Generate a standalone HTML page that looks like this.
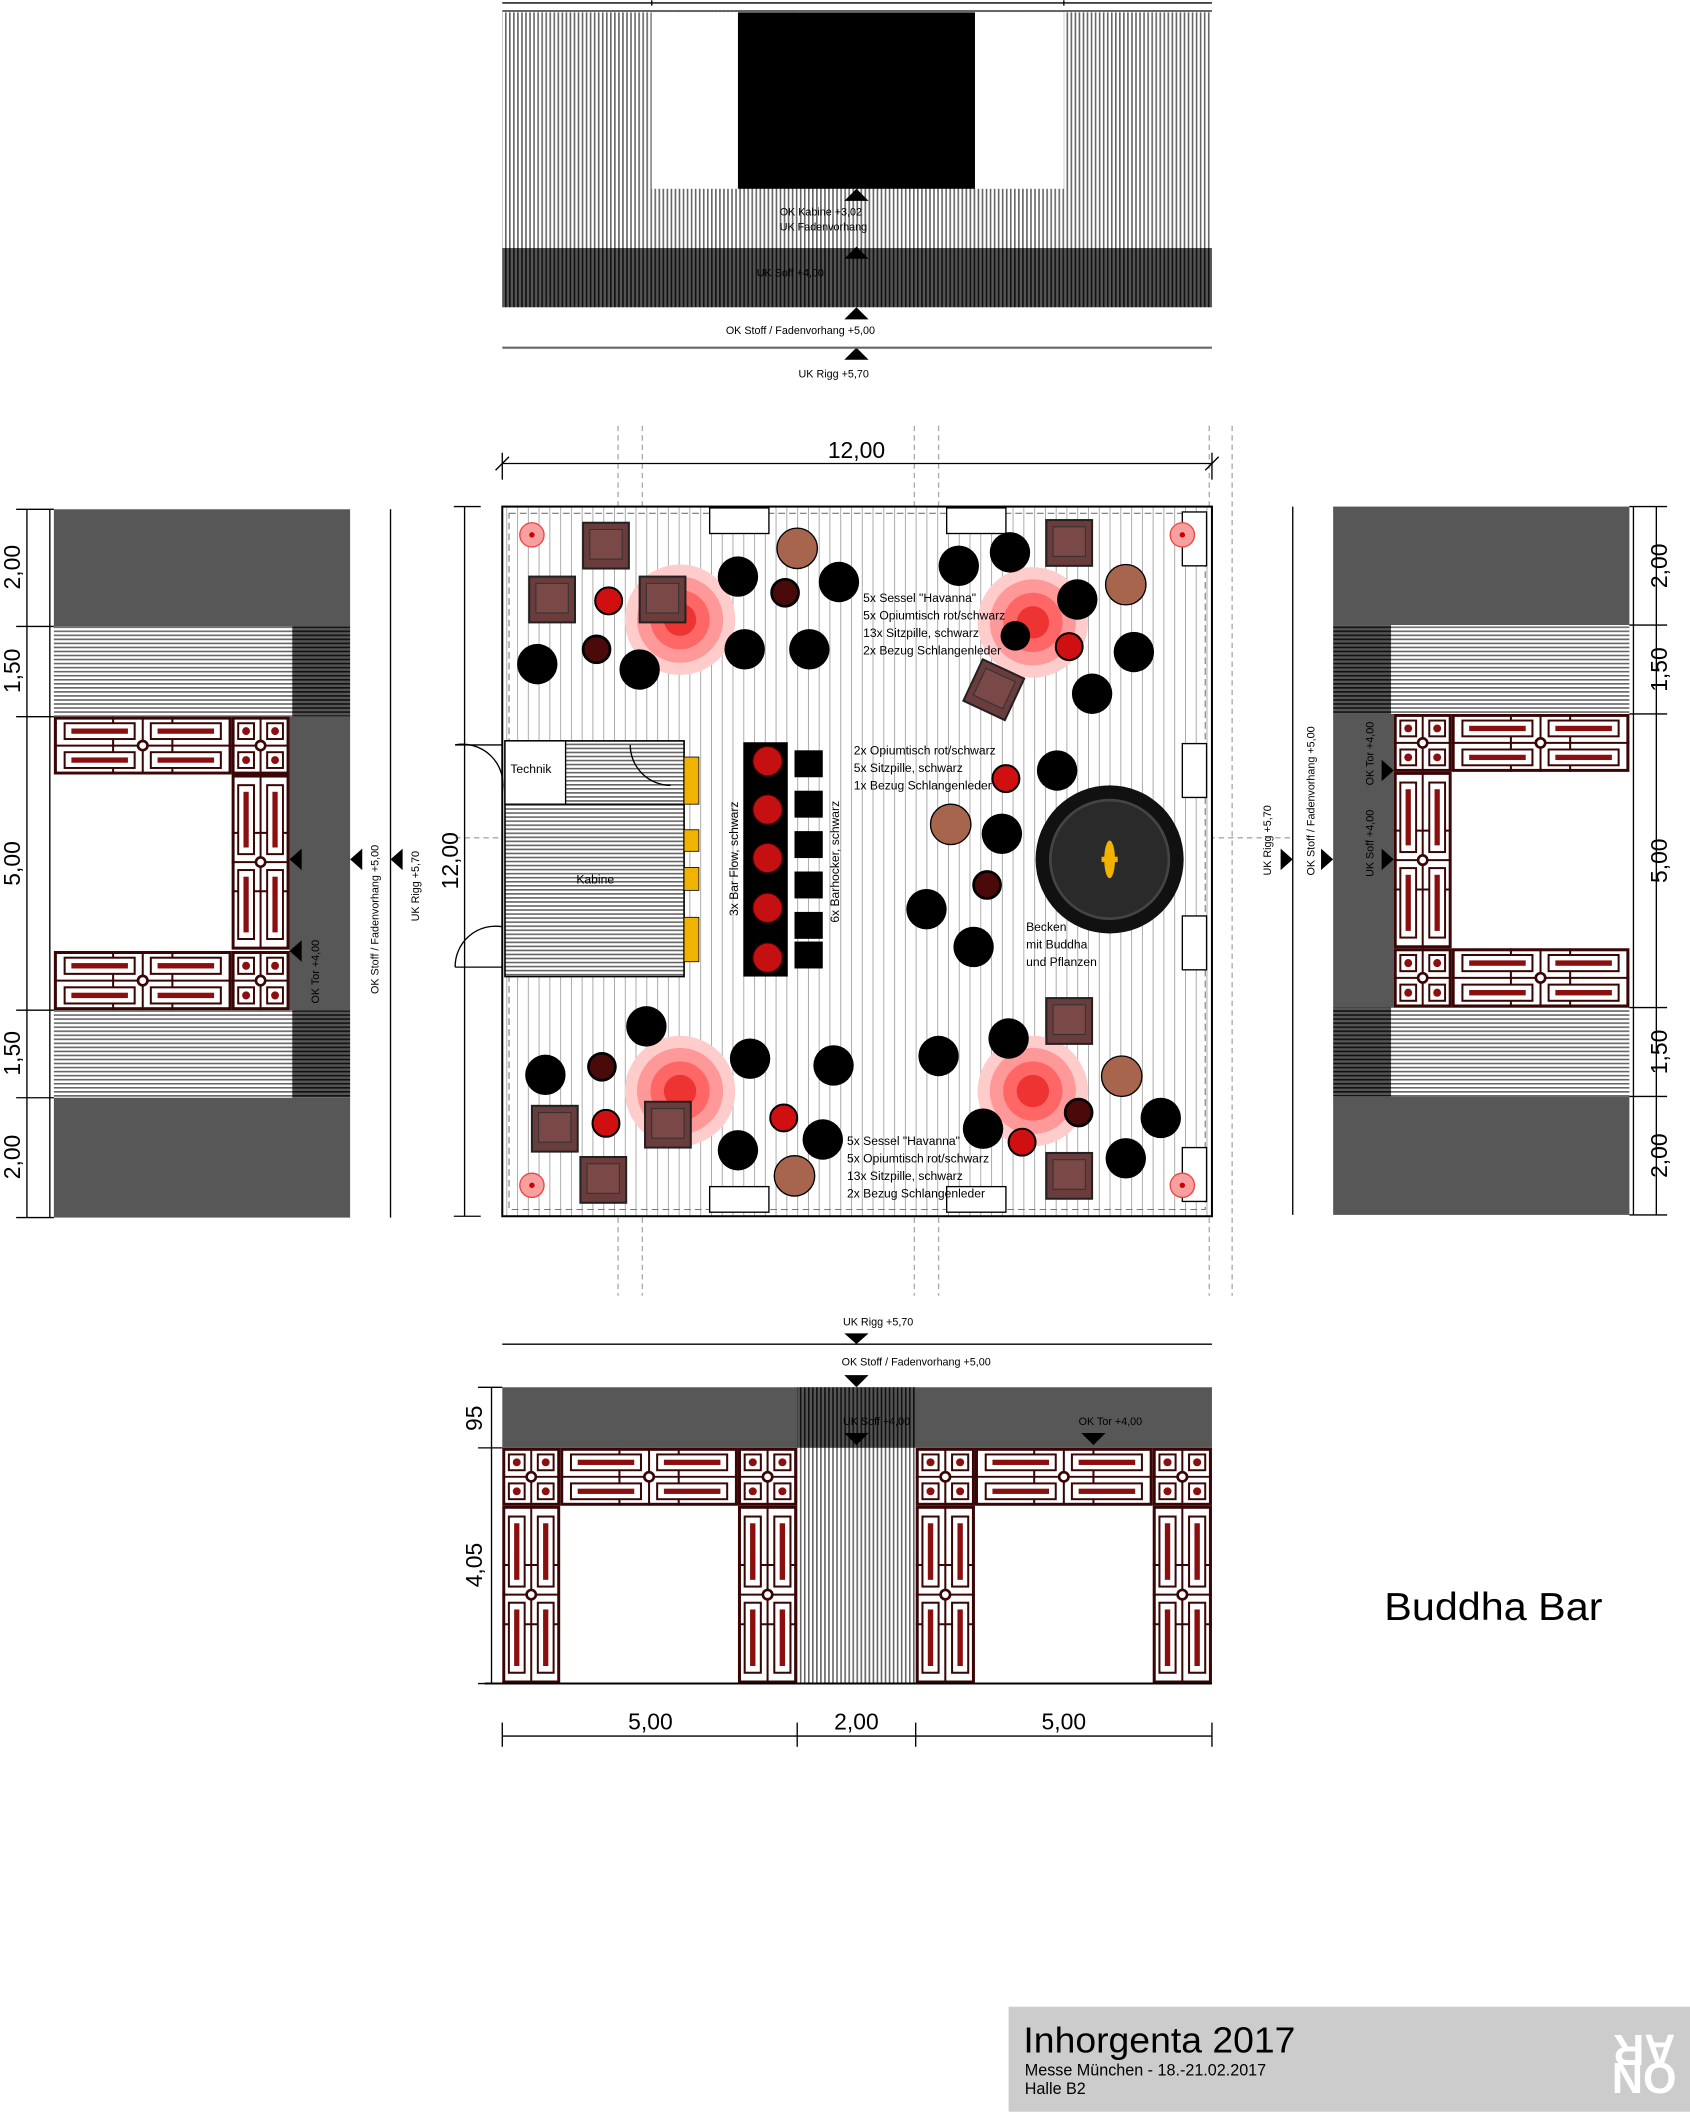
<!DOCTYPE html>
<html><head><meta charset="utf-8"><style>
html,body{margin:0;padding:0;background:#fff}
svg{display:block}
text{font-family:"Liberation Sans",sans-serif;fill:#000}
</style></head><body>
<svg width="1690" height="2112" viewBox="0 0 1255 1568" xmlns="http://www.w3.org/2000/svg">
<defs>
<pattern id="vh" width="3" height="10" patternUnits="userSpaceOnUse"><rect width="3" height="10" fill="#fff"/><rect width="1.2" height="10" fill="#666"/></pattern>
<pattern id="vd" width="3" height="10" patternUnits="userSpaceOnUse"><rect width="3" height="10" fill="#555"/><rect width="1.2" height="10" fill="#111"/></pattern>
<pattern id="hh" width="10" height="3" patternUnits="userSpaceOnUse"><rect width="10" height="3" fill="#fff"/><rect width="10" height="1.2" fill="#666"/></pattern>
<pattern id="hd" width="10" height="3" patternUnits="userSpaceOnUse"><rect width="10" height="3" fill="#555"/><rect width="10" height="1.2" fill="#111"/></pattern>
<pattern id="pl" width="8" height="10" patternUnits="userSpaceOnUse"><rect width="8" height="10" fill="#fff"/><rect width="0.6" height="10" fill="#999"/></pattern>
<symbol id="LH" viewBox="0 0 132 44" preserveAspectRatio="none">
<rect x="1" y="1" width="130" height="42" fill="#fff" stroke="#3a0505" stroke-width="2.5"/>
<g fill="none" stroke="#3a0505" stroke-width="1.5">
<line x1="0" y1="22" x2="132" y2="22"/><line x1="44" y1="0" x2="44" y2="44"/><line x1="88" y1="0" x2="88" y2="44"/><line x1="66" y1="0" x2="66" y2="44"/>
<rect x="8" y="5" width="52" height="12" fill="#fff"/><rect x="72" y="5" width="52" height="12" fill="#fff"/>
<rect x="8" y="27" width="52" height="12" fill="#fff"/><rect x="72" y="27" width="52" height="12" fill="#fff"/>
</g>
<g fill="#8b0f0f"><rect x="13" y="9" width="42" height="4"/><rect x="77" y="9" width="42" height="4"/><rect x="13" y="31" width="42" height="4"/><rect x="77" y="31" width="42" height="4"/></g>
<circle cx="66" cy="22" r="3.5" fill="#fff" stroke="#3a0505" stroke-width="2"/>
</symbol>
<symbol id="LV" viewBox="0 0 44 132" preserveAspectRatio="none">
<rect x="1" y="1" width="42" height="130" fill="#fff" stroke="#3a0505" stroke-width="2.5"/>
<g fill="none" stroke="#3a0505" stroke-width="1.5">
<line y1="0" x1="22" y2="132" x2="22"/><line y1="44" x1="0" y2="44" x2="44"/><line y1="88" x1="0" y2="88" x2="44"/><line y1="66" x1="0" y2="66" x2="44"/>
<rect y="8" x="5" height="52" width="12" fill="#fff"/><rect y="72" x="5" height="52" width="12" fill="#fff"/>
<rect y="8" x="27" height="52" width="12" fill="#fff"/><rect y="72" x="27" height="52" width="12" fill="#fff"/>
</g>
<g fill="#8b0f0f"><rect y="13" x="9" height="42" width="4"/><rect y="77" x="9" height="42" width="4"/><rect y="13" x="31" height="42" width="4"/><rect y="77" x="31" height="42" width="4"/></g>
<circle cy="66" cx="22" r="3.5" fill="#fff" stroke="#3a0505" stroke-width="2"/>
</symbol>
<symbol id="LS" viewBox="0 0 44 44" preserveAspectRatio="none">
<rect x="1" y="1" width="42" height="42" fill="#fff" stroke="#3a0505" stroke-width="2.5"/>
<g fill="none" stroke="#3a0505" stroke-width="1.5">
<line x1="0" y1="22" x2="44" y2="22"/><line x1="22" y1="0" x2="22" y2="44"/>
<rect x="5" y="5" width="12" height="12" fill="#fff"/><rect x="27" y="5" width="12" height="12" fill="#fff"/>
<rect x="5" y="27" width="12" height="12" fill="#fff"/><rect x="27" y="27" width="12" height="12" fill="#fff"/>
</g>
<g fill="#8b0f0f"><circle cx="11" cy="11" r="3"/><circle cx="33" cy="11" r="3"/><circle cx="11" cy="33" r="3"/><circle cx="33" cy="33" r="3"/></g>
<circle cx="22" cy="22" r="3.5" fill="#fff" stroke="#3a0505" stroke-width="2"/>
</symbol>
<g id="glowc"><circle r="41" fill="#fcc"/><circle r="32" fill="#f99"/><circle r="22" fill="#f66"/><circle r="12" fill="#e33"/></g>
<g id="arm"><rect x="-17" y="-17" width="34" height="34" fill="#6b3c3c" stroke="#222" stroke-width="1.5"/><rect x="-12" y="-12" width="24" height="22" fill="#7b4848" stroke="#333" stroke-width="0.8"/></g>
</defs>

<!-- TOP ELEVATION -->
<line x1="373" y1="2" x2="900" y2="2" stroke="#000" stroke-width="1"/>
<line x1="484" y1="0" x2="484" y2="4" stroke="#000"/><line x1="790" y1="0" x2="790" y2="4" stroke="#000"/>
<line x1="373" y1="8" x2="900" y2="8" stroke="#666" stroke-width="1.5"/>
<rect x="373" y="9" width="527" height="175" fill="url(#vh)"/>
<rect x="484" y="9" width="64" height="131" fill="#fff"/>
<rect x="724" y="9" width="66" height="131" fill="#fff"/>
<rect x="548" y="9" width="176" height="131" fill="#000"/>
<rect x="373" y="184" width="527" height="44" fill="url(#vd)"/>
<polygon points="636,140 627,149 645,149" fill="#000"/>
<polygon points="636,183 627,192 645,192" fill="#000"/>
<polygon points="636,228 627,237 645,237" fill="#000"/>
<polygon points="636,258 627,267 645,267" fill="#000"/>
<line x1="373" y1="258" x2="900" y2="258" stroke="#666" stroke-width="1.5"/>
<text x="579" y="160" font-size="8">OK Kabine +3,02</text>
<text x="579" y="171" font-size="8">UK Fadenvorhang</text>
<text x="562" y="205" font-size="8">UK Soff +4,00</text>
<text x="539" y="248" font-size="8">OK Stoff / Fadenvorhang +5,00</text>
<text x="593" y="280" font-size="8">UK Rigg +5,70</text>

<!-- PLAN -->
<g stroke="#aaa" stroke-width="1" stroke-dasharray="4,3">
<line x1="459" y1="316" x2="459" y2="962"/><line x1="477" y1="316" x2="477" y2="962"/>
<line x1="679" y1="316" x2="679" y2="962"/><line x1="697" y1="316" x2="697" y2="962"/>
<line x1="898" y1="316" x2="898" y2="962"/><line x1="915" y1="316" x2="915" y2="962"/>
<line x1="338" y1="622" x2="960" y2="622"/>
</g>
<line x1="373" y1="344" x2="900" y2="344" stroke="#000"/>
<line x1="373" y1="336" x2="373" y2="356" stroke="#000"/><line x1="900" y1="336" x2="900" y2="356" stroke="#000"/>
<line x1="368" y1="349" x2="378" y2="339" stroke="#000"/><line x1="895" y1="349" x2="905" y2="339" stroke="#000"/>
<text x="636" y="340" font-size="17" text-anchor="middle">12,00</text>
<line x1="345" y1="376" x2="345" y2="903" stroke="#000"/>
<line x1="337" y1="376" x2="357" y2="376" stroke="#000"/><line x1="337" y1="903" x2="357" y2="903" stroke="#000"/>
<text x="0" y="0" font-size="17" text-anchor="middle" transform="translate(340,639) rotate(-90)">12,00</text>

<rect x="373" y="376" width="527" height="527" fill="url(#pl)" stroke="#000" stroke-width="1.5"/>
<rect x="378" y="381" width="517" height="517" fill="none" stroke="#777" stroke-width="0.8" stroke-dasharray="5,3"/>
<g fill="#fff" stroke="#000" stroke-width="1">
<rect x="527" y="377" width="44" height="19"/><rect x="703" y="377" width="44" height="19"/>
<rect x="527" y="881" width="44" height="19"/><rect x="703" y="881" width="44" height="19"/>
<rect x="878" y="380" width="18" height="40"/><rect x="878" y="552" width="18" height="40"/><rect x="878" y="680" width="18" height="40"/><rect x="878" y="852" width="18" height="40"/>
</g>
<!-- kabine -->
<rect x="375" y="550" width="133" height="175" fill="url(#hh)" stroke="#000" stroke-width="1.2"/>
<rect x="375" y="550" width="45" height="47" fill="#fff" stroke="#000"/>
<line x1="420" y1="597" x2="508" y2="597" stroke="#000"/>
<path d="M338,553 A30,30 0 0 1 373,588" fill="none" stroke="#000"/><line x1="338" y1="553" x2="373" y2="553" stroke="#000"/>
<path d="M338,718 A30,30 0 0 1 373,688" fill="none" stroke="#000"/><line x1="338" y1="718" x2="373" y2="718" stroke="#000"/>
<path d="M468,553 A30,30 0 0 0 498,583" fill="none" stroke="#000"/>
<text x="379" y="574" font-size="9">Technik</text>
<text x="428" y="656" font-size="9">Kabine</text>
<g fill="#f2b300" stroke="#000" stroke-width="0.6">
<rect x="508" y="562" width="11" height="35"/><rect x="508" y="616" width="11" height="16"/><rect x="508" y="644" width="11" height="17"/><rect x="508" y="681" width="11" height="33"/>
</g>
<!-- bar -->
<rect x="552" y="551" width="33" height="174" fill="#000"/>
<g fill="#c41010" stroke="#300" stroke-width="1"><circle cx="570" cy="565" r="11"/><circle cx="570" cy="601" r="11"/><circle cx="570" cy="637" r="11"/><circle cx="570" cy="674" r="11"/><circle cx="570" cy="711" r="11"/></g>
<g fill="#000"><rect x="590" y="557" width="21" height="20"/><rect x="590" y="587" width="21" height="20"/><rect x="590" y="617" width="21" height="20"/><rect x="590" y="647" width="21" height="20"/><rect x="590" y="677" width="21" height="20"/><rect x="590" y="699" width="21" height="20"/></g>
<text font-size="9" transform="translate(548,680) rotate(-90)">3x Bar Flow, schwarz</text>
<text font-size="9" transform="translate(623,685) rotate(-90)">6x Barhocker, schwarz</text>

<use href="#glowc" x="505" y="460"/><use href="#glowc" x="767" y="462"/>
<use href="#glowc" x="505" y="810"/><use href="#glowc" x="767" y="810"/>
<use href="#arm" x="450" y="405"/><use href="#arm" x="410" y="445"/><use href="#arm" x="492" y="445"/>
<use href="#arm" x="794" y="403"/><use href="#arm" transform="translate(738,512) rotate(25)"/>
<use href="#arm" x="794" y="758"/><use href="#arm" x="794" y="873"/>
<use href="#arm" x="412" y="838"/><use href="#arm" x="496" y="835"/><use href="#arm" x="448" y="876"/>
<g fill="#000">
<circle cx="548" cy="428" r="15"/><circle cx="623" cy="432" r="15"/><circle cx="399" cy="493" r="15"/><circle cx="475" cy="497" r="15"/><circle cx="553" cy="482" r="15"/><circle cx="601" cy="482" r="15"/>
<circle cx="712" cy="420" r="15"/><circle cx="750" cy="410" r="15"/><circle cx="800" cy="445" r="15"/><circle cx="842" cy="484" r="15"/><circle cx="811" cy="515" r="15"/><circle cx="754" cy="472" r="11"/>
<circle cx="785" cy="572" r="15"/><circle cx="744" cy="619" r="15"/><circle cx="688" cy="675" r="15"/><circle cx="723" cy="703" r="15"/>
<circle cx="480" cy="762" r="15"/><circle cx="405" cy="798" r="15"/><circle cx="557" cy="786" r="15"/><circle cx="619" cy="791" r="15"/><circle cx="548" cy="854" r="15"/><circle cx="611" cy="846" r="15"/>
<circle cx="697" cy="784" r="15"/><circle cx="749" cy="771" r="15"/><circle cx="862" cy="830" r="15"/><circle cx="836" cy="860" r="15"/><circle cx="730" cy="838" r="15"/>
</g>
<g fill="#4a0a0a" stroke="#000" stroke-width="2">
<circle cx="583" cy="440" r="10"/><circle cx="443" cy="482" r="10"/><circle cx="733" cy="657" r="10"/><circle cx="447" cy="792" r="10"/><circle cx="801" cy="826" r="10"/>
</g>
<g fill="#d01010" stroke="#000" stroke-width="1.5">
<circle cx="452" cy="446" r="10"/><circle cx="794" cy="480" r="10"/><circle cx="747" cy="578" r="10"/><circle cx="450" cy="834" r="10"/><circle cx="582" cy="830" r="10"/><circle cx="759" cy="848" r="10"/>
</g>
<g fill="#a8654e" stroke="#000" stroke-width="1">
<circle cx="592" cy="407" r="15"/><circle cx="836" cy="434" r="15"/><circle cx="706" cy="612" r="15"/><circle cx="590" cy="873" r="15"/><circle cx="833" cy="799" r="15"/>
</g>
<g fill="#f7a0a0" stroke="#e44" stroke-width="1"><circle cx="395" cy="397" r="9"/><circle cx="878" cy="397" r="9"/><circle cx="395" cy="880" r="9"/><circle cx="878" cy="880" r="9"/></g>
<g fill="#c00"><circle cx="395" cy="397" r="2"/><circle cx="878" cy="397" r="2"/><circle cx="395" cy="880" r="2"/><circle cx="878" cy="880" r="2"/></g>
<circle cx="824" cy="638" r="55" fill="#111"/>
<circle cx="824" cy="638" r="44" fill="#2a2a2a" stroke="#444" stroke-width="2"/>
<ellipse cx="824" cy="638" rx="4" ry="14" fill="#f2b300"/><rect x="818" y="636" width="12" height="4" fill="#f2b300"/>
<text x="762" y="691" font-size="9">Becken</text>
<text x="762" y="704" font-size="9">mit Buddha</text>
<text x="762" y="717" font-size="9">und Pflanzen</text>
<g font-size="9">
<text x="641" y="447">5x Sessel "Havanna"</text><text x="641" y="460">5x Opiumtisch rot/schwarz</text><text x="641" y="473">13x Sitzpille, schwarz</text><text x="641" y="486">2x Bezug Schlangenleder</text>
<text x="634" y="560">2x Opiumtisch rot/schwarz</text><text x="634" y="573">5x Sitzpille, schwarz</text><text x="634" y="586">1x Bezug Schlangenleder</text>
<text x="629" y="850">5x Sessel "Havanna"</text><text x="629" y="863">5x Opiumtisch rot/schwarz</text><text x="629" y="876">13x Sitzpille, schwarz</text><text x="629" y="889">2x Bezug Schlangenleder</text>
</g>

<!-- LEFT ELEVATION -->
<rect x="40" y="378" width="220" height="87" fill="#575757"/>
<rect x="40" y="465" width="177" height="67" fill="url(#hh)"/>
<rect x="217" y="465" width="43" height="67" fill="url(#hd)"/>
<rect x="215" y="532" width="45" height="218" fill="#575757"/>
<rect x="40" y="750" width="177" height="65" fill="url(#hh)"/>
<rect x="217" y="750" width="43" height="65" fill="url(#hd)"/>
<rect x="40" y="815" width="220" height="89" fill="#575757"/>
<use href="#LH" x="40" y="532" width="132" height="43"/><use href="#LS" x="172" y="532" width="43" height="43"/>
<use href="#LV" x="172" y="575" width="43" height="130"/>
<use href="#LH" x="40" y="706" width="132" height="44"/><use href="#LS" x="172" y="706" width="43" height="44"/>
<line x1="37" y1="378" x2="37" y2="904" stroke="#000"/>
<line x1="290" y1="378" x2="290" y2="904" stroke="#000"/>
<polygon points="215,638 224,630 224,646" fill="#000"/><polygon points="215,706 224,698 224,714" fill="#000"/>
<polygon points="260,638 269,630 269,646" fill="#000"/><polygon points="290,638 299,630 299,646" fill="#000"/>
<text font-size="8" transform="translate(237,745) rotate(-90)">OK Tor +4,00</text>
<text font-size="8" transform="translate(281,738) rotate(-90)">OK Stoff / Fadenvorhang +5,00</text>
<text font-size="8" transform="translate(311,684) rotate(-90)">UK Rigg +5,70</text>
<line x1="20" y1="378" x2="20" y2="904" stroke="#000"/>
<g stroke="#000"><line x1="12" y1="378" x2="40" y2="378"/><line x1="12" y1="465" x2="40" y2="465"/><line x1="12" y1="532" x2="40" y2="532"/><line x1="12" y1="750" x2="40" y2="750"/><line x1="12" y1="815" x2="40" y2="815"/><line x1="12" y1="904" x2="40" y2="904"/></g>
<g font-size="17" text-anchor="middle">
<text transform="translate(15,421) rotate(-90)">2,00</text><text transform="translate(15,498) rotate(-90)">1,50</text>
<text transform="translate(15,641) rotate(-90)">5,00</text><text transform="translate(15,782) rotate(-90)">1,50</text><text transform="translate(15,859) rotate(-90)">2,00</text>
</g>

<!-- RIGHT ELEVATION -->
<rect x="990" y="376" width="220" height="88" fill="#575757"/>
<rect x="1033" y="464" width="177" height="66" fill="url(#hh)"/>
<rect x="990" y="464" width="43" height="66" fill="url(#hd)"/>
<rect x="990" y="530" width="45" height="218" fill="#575757"/>
<rect x="1033" y="748" width="177" height="66" fill="url(#hh)"/>
<rect x="990" y="748" width="43" height="66" fill="url(#hd)"/>
<rect x="990" y="814" width="220" height="88" fill="#575757"/>
<use href="#LS" x="1035" y="530" width="43" height="43"/><use href="#LH" x="1078" y="530" width="132" height="43"/>
<use href="#LV" x="1035" y="573" width="43" height="131"/>
<use href="#LS" x="1035" y="704" width="43" height="44"/><use href="#LH" x="1078" y="704" width="132" height="44"/>
<line x1="1213" y1="376" x2="1213" y2="902" stroke="#000"/>
<line x1="960" y1="376" x2="960" y2="902" stroke="#000"/>
<polygon points="1035,572 1026,564 1026,580" fill="#000"/><polygon points="1035,638 1026,630 1026,646" fill="#000"/>
<polygon points="990,638 981,630 981,646" fill="#000"/><polygon points="960,638 951,630 951,646" fill="#000"/>
<text font-size="8" transform="translate(1020,583) rotate(-90)">OK Tor +4,00</text>
<text font-size="8" transform="translate(1020,651) rotate(-90)">UK Soff +4,00</text>
<text font-size="8" transform="translate(976,650) rotate(-90)">OK Stoff / Fadenvorhang +5,00</text>
<text font-size="8" transform="translate(944,650) rotate(-90)">UK Rigg +5,70</text>
<line x1="1230" y1="376" x2="1230" y2="902" stroke="#000"/>
<g stroke="#000"><line x1="1210" y1="376" x2="1238" y2="376"/><line x1="1210" y1="464" x2="1238" y2="464"/><line x1="1210" y1="530" x2="1238" y2="530"/><line x1="1210" y1="748" x2="1238" y2="748"/><line x1="1210" y1="814" x2="1238" y2="814"/><line x1="1210" y1="902" x2="1238" y2="902"/></g>
<g font-size="17" text-anchor="middle">
<text transform="translate(1238,420) rotate(-90)">2,00</text><text transform="translate(1238,497) rotate(-90)">1,50</text>
<text transform="translate(1238,639) rotate(-90)">5,00</text><text transform="translate(1238,781) rotate(-90)">1,50</text><text transform="translate(1238,858) rotate(-90)">2,00</text>
</g>

<!-- BOTTOM ELEVATION -->
<polygon points="636,998 627,990 645,990" fill="#000"/>
<line x1="373" y1="998" x2="900" y2="998" stroke="#000"/>
<text x="626" y="984" font-size="8">UK Rigg +5,70</text>
<text x="625" y="1014" font-size="8">OK Stoff / Fadenvorhang +5,00</text>
<polygon points="636,1030 627,1021 645,1021" fill="#000"/>
<rect x="373" y="1030" width="527" height="45" fill="#575757"/>
<rect x="592" y="1030" width="88" height="45" fill="url(#vd)"/>
<rect x="592" y="1075" width="88" height="175" fill="url(#vh)"/>
<polygon points="636,1073 627,1064 645,1064" fill="#000"/>
<polygon points="812,1073 803,1064 821,1064" fill="#000"/>
<text x="626" y="1058" font-size="8">UK Soff +4,00</text>
<text x="801" y="1058" font-size="8">OK Tor +4,00</text>
<use href="#LS" x="373" y="1075" width="43" height="43"/><use href="#LH" x="416" y="1075" width="132" height="43"/><use href="#LS" x="548" y="1075" width="44" height="43"/>
<use href="#LV" x="373" y="1118" width="43" height="132"/><use href="#LV" x="548" y="1118" width="44" height="132"/>
<use href="#LS" x="680" y="1075" width="44" height="43"/><use href="#LH" x="724" y="1075" width="132" height="43"/><use href="#LS" x="856" y="1075" width="44" height="43"/>
<use href="#LV" x="680" y="1118" width="44" height="132"/><use href="#LV" x="856" y="1118" width="44" height="132"/>
<line x1="360" y1="1250" x2="900" y2="1250" stroke="#000" stroke-width="1.5"/>
<line x1="365" y1="1030" x2="365" y2="1250" stroke="#000"/>
<g stroke="#000"><line x1="355" y1="1030" x2="373" y2="1030"/><line x1="355" y1="1075" x2="373" y2="1075"/><line x1="355" y1="1250" x2="373" y2="1250"/></g>
<text font-size="17" text-anchor="middle" transform="translate(358,1053) rotate(-90)">95</text>
<text font-size="17" text-anchor="middle" transform="translate(358,1162) rotate(-90)">4,05</text>
<line x1="373" y1="1289" x2="900" y2="1289" stroke="#000"/>
<g stroke="#000"><line x1="373" y1="1279" x2="373" y2="1297"/><line x1="592" y1="1279" x2="592" y2="1297"/><line x1="680" y1="1279" x2="680" y2="1297"/><line x1="900" y1="1279" x2="900" y2="1297"/></g>
<g font-size="17" text-anchor="middle"><text x="483" y="1284">5,00</text><text x="636" y="1284">2,00</text><text x="790" y="1284">5,00</text></g>

<text x="1028" y="1203" font-size="29" textLength="162" lengthAdjust="spacingAndGlyphs">Buddha Bar</text>

<!-- TITLE BLOCK -->
<rect x="749" y="1490" width="506" height="78" fill="#cccccc"/>
<text x="760" y="1524" font-size="27" fill="#222" textLength="202" lengthAdjust="spacingAndGlyphs">Inhorgenta 2017</text>
<text x="761" y="1541" font-size="12" fill="#222">Messe München  -  18.-21.02.2017</text>
<text x="761" y="1555" font-size="12" fill="#222">Halle B2</text>
<text x="1221" y="1517" font-size="32" font-weight="bold" text-anchor="middle" style="fill:#fff" transform="rotate(180 1221 1514)" textLength="46" lengthAdjust="spacingAndGlyphs">AR</text>
<text x="1221" y="1554" font-size="32" font-weight="bold" text-anchor="middle" style="fill:#fff" textLength="48" lengthAdjust="spacingAndGlyphs">NO</text>
</svg>
</body></html>
